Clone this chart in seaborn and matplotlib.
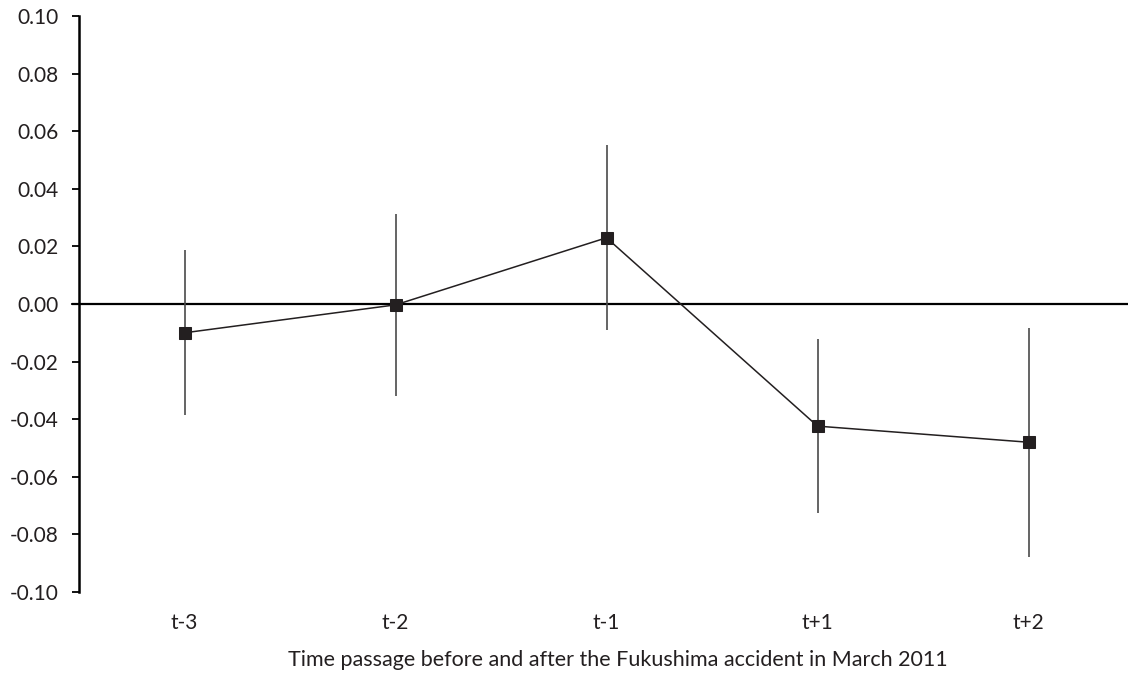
import numpy as np
import pandas as pd
import matplotlib.pyplot as plt
import seaborn as sns

# Event-study estimates
periods = ['t-3', 't-2', 't-1', 't+1', 't+2']
estimates = [-0.0100, -0.0003, 0.0230, -0.0424, -0.0480]
ci_low = [-0.0386, -0.0318, -0.0090, -0.0725, -0.0877]
ci_high = [0.0188, 0.0311, 0.0552, -0.0122, -0.0084]
y_ticks = [-0.10, -0.08, -0.06, -0.04, -0.02, 0.00, 0.02, 0.04, 0.06, 0.08, 0.10]
y_tick_labels = ['-0.10', '-0.08', '-0.06', '-0.04', '-0.02', '0.00',
                 '0.02', '0.04', '0.06', '0.08', '0.10']
x_title = 'Time passage before and after the Fukushima accident in March 2011'

sns.set_theme(style='white')
plt.rcParams['font.family'] = ['Lato', 'DejaVu Sans']
text_color = '#231f20'

df = pd.DataFrame({'period': periods, 'pos': np.arange(len(periods)),
                   'est': estimates, 'lo': ci_low, 'hi': ci_high})

W, H = 1128, 678
left_px, bottom_px = 79, 86
fig = plt.figure(figsize=(W / 100, H / 100), dpi=100)
ax = fig.add_axes([left_px / W, bottom_px / H, (W - left_px) / W, 576 / H])

# zero reference line, starting at the tick marks
ax.axhline(0, xmin=-7 / (W - left_px), xmax=1, color='black', lw=1.6, clip_on=False, zorder=1)

# confidence intervals
ax.vlines(df['pos'], df['lo'], df['hi'], color='#4a4a4a', lw=1.2, zorder=2)

# point estimates joined by a line
sns.lineplot(data=df, x='pos', y='est', ax=ax, color=text_color, lw=1.1,
             marker='s', markersize=8, markeredgecolor=text_color, zorder=3)

step = 211
ax.set_xlim(-0.5, (W - left_px) / step - 0.5)
ax.set_ylim(-0.1, 0.1)
ax.set_yticks(y_ticks)
ax.set_yticklabels(y_tick_labels)
ax.set_xticks(df['pos'])
ax.set_xticklabels(periods)

for side in ['top', 'right', 'bottom']:
    ax.spines[side].set_visible(False)
ax.spines['left'].set_color('black')
ax.spines['left'].set_linewidth(1.8)

ax.tick_params(axis='y', which='major', direction='out', length=5, width=1.3,
               color='black', left=True, pad=10, labelsize=15, labelcolor=text_color)
ax.tick_params(axis='x', length=0, pad=15, labelsize=15, labelcolor=text_color)

ax.set_xlabel(x_title, fontsize=15.5, color=text_color)
ax.xaxis.set_label_coords((618 - left_px) / (W - left_px), -(660 - 592) / 576)
ax.xaxis.label.set_verticalalignment('center')
ax.set_ylabel('')

fig.savefig('out.png', dpi=100)
